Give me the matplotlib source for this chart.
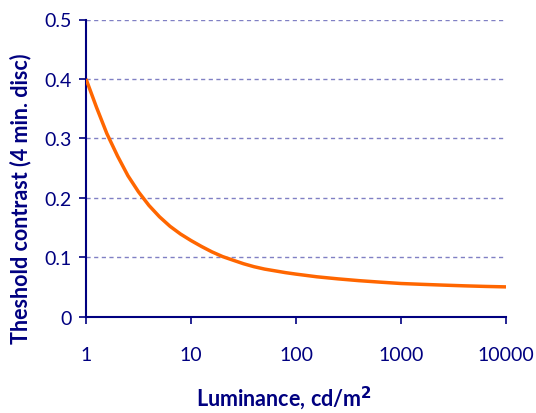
import numpy as np
import matplotlib.pyplot as plt

# luminance (cd/m^2) and threshold contrast
luminance = [1, 1.26, 1.58, 2, 2.51, 3.16, 3.98, 5.01, 6.31, 7.94, 10, 12.6, 15.8, 20, 25.1, 31.6,
             39.8, 50.1, 63.1, 79.4, 100, 158, 251, 398, 631, 1000, 1585, 2512, 3981, 6310, 10000]
contrast = [0.400, 0.352, 0.308, 0.270, 0.237, 0.210, 0.187, 0.168, 0.152, 0.139, 0.128, 0.118,
            0.109, 0.101, 0.095, 0.089, 0.084, 0.080, 0.077, 0.074, 0.0715, 0.067, 0.0635, 0.0605,
            0.058, 0.0557, 0.0543, 0.053, 0.0518, 0.0508, 0.050]

y_ticks = [0, 0.1, 0.2, 0.3, 0.4, 0.5]
y_labels = ['0', '0.1', '0.2', '0.3', '0.4', '0.5']
x_ticks = [1, 10, 100, 1000, 10000]
x_labels = ['1', '10', '100', '1000', '10000']

navy = '#000080'
plt.rcParams['font.family'] = ['Lato', 'DejaVu Sans']

fig = plt.figure(figsize=(5.36, 4.14), dpi=100)
left, right, top, bottom = 86, 506, 20.5, 317.6
ax = fig.add_axes([left / 536, 1 - bottom / 414, (right - left) / 536, (bottom - top) / 414])

ax.plot(luminance, contrast, color='#FF6600', lw=2.5, solid_capstyle='butt', zorder=3)

ax.set_xscale('log')
ax.set_xlim(1, 10000)
ax.set_ylim(0, 0.5)
ax.set_xticks(x_ticks)
ax.set_xticklabels(x_labels)
ax.minorticks_off()
ax.set_yticks(y_ticks)
ax.set_yticklabels(y_labels)

ax.grid(axis='y', color='#8080C4', linestyle=(0, (3, 2.5)), lw=1)
for s in ['top', 'right']:
    ax.spines[s].set_visible(False)
for s in ['left', 'bottom']:
    ax.spines[s].set_color(navy)
    ax.spines[s].set_linewidth(1.5)

ax.tick_params(colors=navy, labelsize=14, length=5, width=1.2, direction='out')
ax.tick_params(axis='x', pad=16)
ax.tick_params(axis='y', pad=5)

ax.set_xlabel('Luminance, cd/m$^\\mathbf{2}$', color=navy, fontsize=15.5, fontweight='bold')
ax.set_ylabel('Theshold contrast (4 min. disc)', color=navy, fontsize=15.5, fontweight='bold')
ax.xaxis.set_label_coords(0.471, -0.225)
ax.yaxis.set_label_coords(-0.131, 0.40)

fig.savefig('out.png', dpi=100)
